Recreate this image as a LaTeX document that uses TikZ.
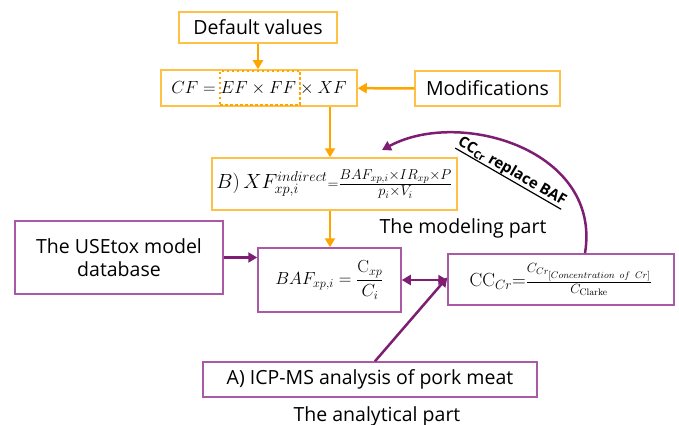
\documentclass[tikz,border=0pt]{standalone}
\usepackage{fix-cm}
\usepackage[no-math]{fontspec}
\setmainfont{Open Sans}
\usetikzlibrary{arrows.meta}
\definecolor{boxorange}{RGB}{255,192,70}
\definecolor{arroworange}{RGB}{255,165,0}
\definecolor{boxpurple}{RGB}{170,90,165}
\definecolor{arrowpurple}{RGB}{125,30,115}
\begin{document}
\begin{tikzpicture}[x=1pt, y=-1pt,
    every node/.style = {font=\fontsize{19.5}{23}\selectfont, inner sep=0pt, align=center},
    obox/.style = {draw=boxorange, line width=1.5pt},
    pbox/.style = {draw=boxpurple, line width=1.5pt},
    oarrow/.style = {arroworange, line width=2.5pt, -{Triangle[length=9pt,width=10pt]}},
    parrow/.style = {arrowpurple, line width=2.5pt, -{Triangle[length=9pt,width=10pt]}},
    bothways/.style = {arrowpurple, line width=2.5pt, {Triangle[length=9pt,width=10pt]}-{Triangle[length=9pt,width=10pt]}},
    mathtext/.style = {font=\fontsize{17.5}{21}\selectfont}
  ]
\useasboundingbox (0,0) rectangle (679,425);
\coordinate (spine) at (330,0);
% the modeling part
\node[obox, minimum width=158pt, minimum height=31pt] (defaults) at (258,27.5) {Default values};
\node[obox, minimum width=196pt, minimum height=36pt, mathtext] (cf) at (259,88) {$CF = EF \times FF \times XF$};
\node[draw=arroworange, line width=2.5pt, dash pattern={on 2.5pt off 2.5pt}, minimum width=80pt, minimum height=34pt] (efff) at (260,88) {};
\node[obox, minimum width=145pt, minimum height=35pt] (mods) at (487.5,88.5) {Modifications};
\node[obox, minimum width=245pt, minimum height=52pt, font=\fontsize{20.5}{24}\selectfont] (xf) at (334.5,184)
  {$B)\,XF^{indirect}_{xp,i}{\scriptstyle=}\frac{BAF_{xp,i}\times IR_{xp}\times P}{p_i\times V_i}$};
\node (modeling) at (463,228) {The modeling part};
% the database side
\node[pbox, minimum width=208pt, minimum height=73pt] (usetox) at (119,257.5) {The USEtox model\\database};
\node[pbox, minimum width=143pt, minimum height=64pt, mathtext] (baf) at (329.5,280)
  {$\displaystyle BAF_{xp,i} = \frac{\mathrm{C}_{xp}}{C_i}$};
\node[pbox, minimum width=226pt, minimum height=51pt, font=\fontsize{19}{22}\selectfont] (cc) at (561,279.5)
  {$\mathrm{CC}_{Cr}{=}\frac{C_{Cr_{[Concentration\ of\ Cr]}}}{C_{\mathrm{Clarke}}}$};
% the analytical part
\node[pbox, minimum width=334pt, minimum height=35pt] (icp) at (370,379.5) {A) ICP-MS analysis of pork meat};
\node (analytical) at (377,416) {The analytical part};
\coordinate (replace) at (382,150);
\node[rotate=-30, font=\fontsize{15}{18}\selectfont\bfseries] (ccnote) at (512,172) {CC\textsubscript{Cr} replace BAF};
\draw[line width=1.2pt] (ccnote.south west) -- (ccnote.south east);

\draw[oarrow] (defaults) -- (cf.north -| defaults);
\draw[oarrow] (mods) -- (cf);
\draw[oarrow] (cf.south -| spine) -- (xf.north -| spine);
\draw[oarrow] (xf.south -| spine) -- (baf.north -| spine);
\draw[parrow] (usetox) -- (usetox -| baf.west);
\draw[bothways] (baf.east) -- (baf.east -| cc.west);
\draw[parrow] ([xshift=5pt]icp.north) -- ([yshift=2pt]cc.west);
\draw[parrow] ([xshift=24pt]cc.north) .. controls (602,150) and (460,108) .. (replace);
\end{tikzpicture}
\end{document}
